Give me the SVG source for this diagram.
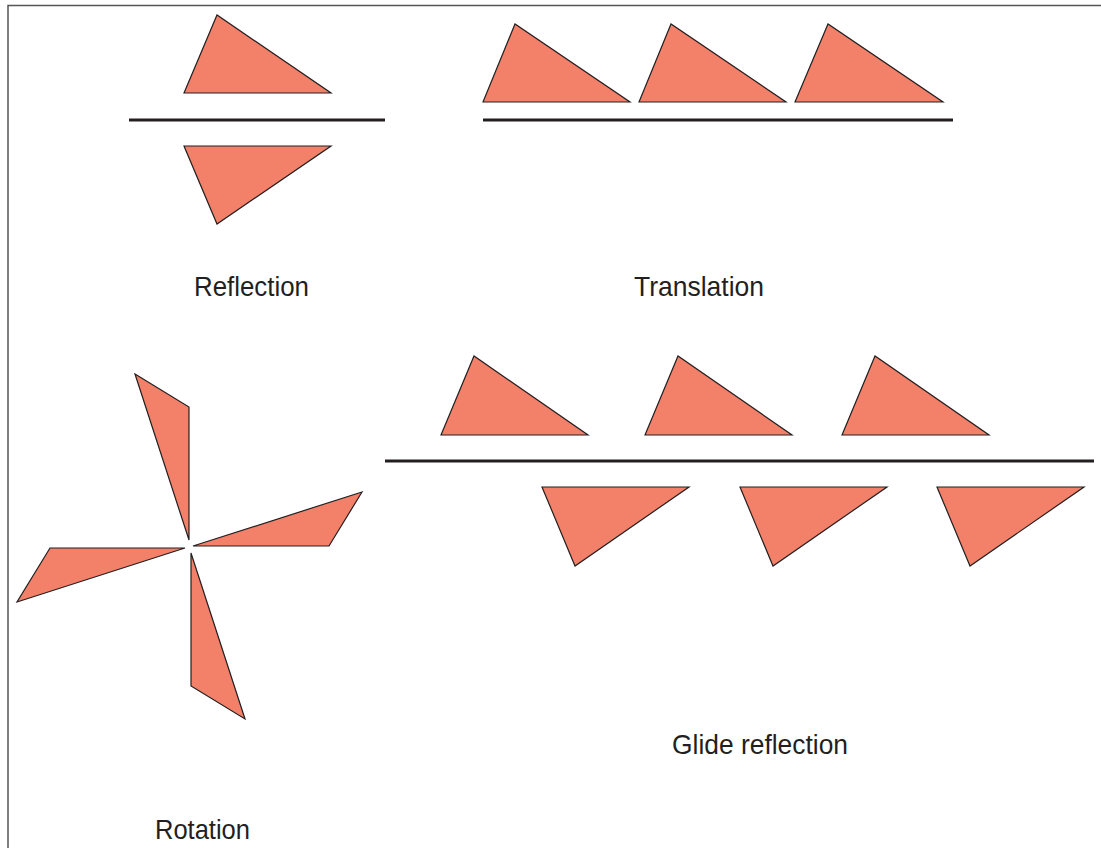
<svg xmlns="http://www.w3.org/2000/svg" width="1101" height="848" viewBox="0 0 1101 848">
<style>
.tri{fill:#f3816a;stroke:#231f20;stroke-width:1.2;stroke-linejoin:miter}
.axis{stroke:#231f20;stroke-width:3;fill:none}
.lbl{font-family:"Liberation Sans",Arial,sans-serif;font-size:27.5px;fill:#231f20}
.frame{stroke:#555;stroke-width:1.5;fill:none}
</style>
<rect width="1101" height="848" fill="#fff"/>
<path class="frame" d="M8,848 V5.5 H1101"/>
<g id="reflection">
<polygon class="tri" points="184,93 217,15 331,93"/>
<line class="axis" x1="129" y1="120" x2="385" y2="120"/>
<polygon class="tri" points="184,146 331,146 217,224"/>
<text class="lbl" x="194" y="295.5" textLength="115" lengthAdjust="spacingAndGlyphs">Reflection</text>
</g>
<g id="translation">
<polygon class="tri" points="483,102 515,24 630,102"/>
<polygon class="tri" points="639,102 671,24 786,102"/>
<polygon class="tri" points="795,102 828,24 943,102"/>
<line class="axis" x1="483" y1="120" x2="953" y2="120"/>
<text class="lbl" x="634" y="295.5" textLength="130" lengthAdjust="spacingAndGlyphs">Translation</text>
</g>
<g id="rotation">
<polygon class="tri" points="135,374 189,407 189,540"/>
<polygon class="tri" points="362,492 329,546 193,546"/>
<polygon class="tri" points="191,553 191,686 245,719"/>
<polygon class="tri" points="185,548 50,548 17,602"/>
<text class="lbl" x="155" y="838.5" textLength="95" lengthAdjust="spacingAndGlyphs">Rotation</text>
</g>
<g id="glide-reflection">
<polygon class="tri" points="441,435 474,356 588,435"/>
<polygon class="tri" points="645,435 678,356 792,435"/>
<polygon class="tri" points="842,435 875,356 989,435"/>
<line class="axis" x1="385" y1="461" x2="1094" y2="461"/>
<polygon class="tri" points="542,487 689,487 575,566"/>
<polygon class="tri" points="740,487 887,487 773,566"/>
<polygon class="tri" points="937,487 1084,487 970,566"/>
<text class="lbl" x="672" y="753.5" textLength="176" lengthAdjust="spacingAndGlyphs">Glide reflection</text>
</g>
</svg>
